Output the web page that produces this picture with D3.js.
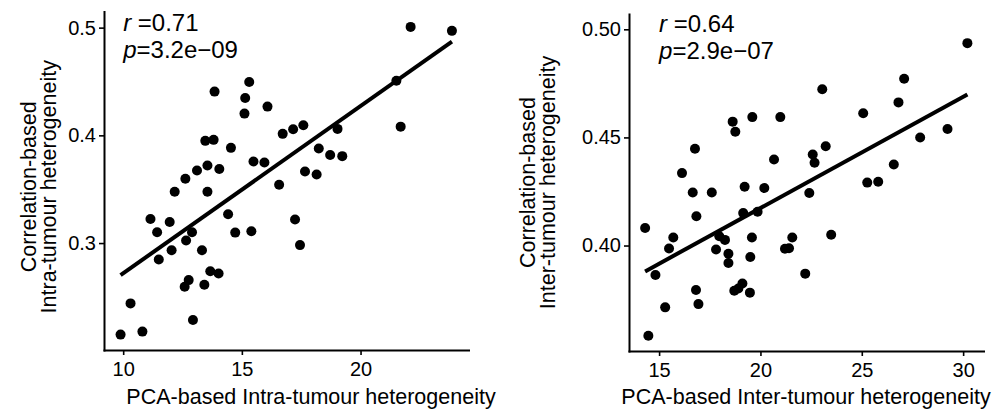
<!DOCTYPE html>
<html>
<head>
<meta charset="utf-8">
<script src="https://cdn.jsdelivr.net/npm/d3@7"></script>
<style>
  body { margin: 0; background: #fff; }
  text { font-family: "Liberation Sans", Arial, Helvetica, sans-serif; fill: #000; }
</style>
</head>
<body>
<svg id="chart" width="1000" height="410"></svg>
<script>
// Intra-tumour heterogeneity: PCA-based (x) vs correlation-based (y)
const intraPCA = [13.85,15.31,15.14,15.11,16.08,13.46,13.81,14.54,16.72,17.16,17.59,15.49,15.95,13.11,13.55,14.05,12.62,12.17,13.55,16.57,11.15,11.96,14.42,11.43,12.90,12.65,14.72,15.40,17.24,17.45,12.04,13.32,11.50,13.67,14.02,12.76,12.59,13.42,10.31,12.94,9.89,10.81,22.11,23.85,21.51,21.69,19.03,18.24,18.72,19.23,17.66,18.15];
const intraCorr = [0.4406,0.4495,0.4347,0.4202,0.4267,0.3949,0.3958,0.3884,0.4014,0.4057,0.4094,0.3757,0.3748,0.3674,0.3720,0.3687,0.3597,0.3477,0.3477,0.3542,0.3224,0.3196,0.3267,0.3100,0.3100,0.3023,0.3097,0.3109,0.3218,0.2981,0.2933,0.2933,0.2847,0.2739,0.2718,0.2656,0.2594,0.2613,0.2440,0.2285,0.2150,0.2178,0.5007,0.4970,0.4507,0.4081,0.4060,0.3878,0.3817,0.3807,0.3665,0.3637];

// Inter-tumour heterogeneity: PCA-based (x) vs correlation-based (y)
const interPCA = [18.63,19.60,20.98,18.76,16.77,16.13,20.67,16.66,17.60,19.22,20.19,16.84,19.15,19.86,14.31,15.70,15.49,17.97,18.25,17.81,18.42,18.42,19.58,19.50,21.21,21.41,21.57,14.82,16.82,16.94,18.71,18.91,19.11,19.48,15.30,14.47,30.21,27.09,23.05,26.81,25.07,29.23,27.88,23.22,22.58,22.67,26.58,25.27,25.81,22.41,23.49,22.21];
const interCorr = [0.4573,0.4594,0.4594,0.4526,0.4448,0.4335,0.4398,0.4245,0.4245,0.4272,0.4266,0.4135,0.4150,0.4156,0.4081,0.4037,0.3986,0.4043,0.4026,0.3982,0.3962,0.3919,0.4037,0.3947,0.3985,0.3987,0.4037,0.3864,0.3794,0.3729,0.3791,0.3801,0.3824,0.3782,0.3714,0.3583,0.4936,0.4771,0.4723,0.4662,0.4612,0.4539,0.4500,0.4459,0.4421,0.4383,0.4375,0.4291,0.4295,0.4243,0.4050,0.3870];

// Axis ticks
const intraXTicks = [10, 15, 20];
const intraYTicks = [0.3, 0.4, 0.5];
const interXTicks = [15, 20, 25, 30];
const interYTicks = [0.40, 0.45, 0.50];

// Correlation statistics and where they are anchored (data units)
const intraStats = { r: "0.71", p: "3.2e\u221209", x: 10, y: 0.5 };
const interStats = { r: "0.64", p: "2.9e\u221207", x: 15, y: 0.5 };

const svg = d3.select("#chart");

// Continuous-scale domain with 5% padding on both sides
function padded(values) {
  const [lo, hi] = d3.extent(values);
  const pad = (hi - lo) * 0.05;
  return [lo - pad, hi + pad];
}

// Ordinary least squares fit
function linearFit(xs, ys) {
  const mx = d3.mean(xs), my = d3.mean(ys);
  let sxy = 0, sxx = 0;
  xs.forEach((x, i) => { sxy += (x - mx) * (ys[i] - my); sxx += (x - mx) ** 2; });
  const slope = sxy / sxx;
  return { slope, intercept: my - slope * mx };
}

function drawPanel(cfg) {
  const { box, xs, ys, xTicks, yTicks, yFormat, stats } = cfg;
  const x = d3.scaleLinear().domain(padded(xs)).range([box.left, box.right]);
  const y = d3.scaleLinear().domain(padded(ys.concat([stats.y]))).range([box.bottom, box.top]);

  const g = svg.append("g");

  // Points
  g.append("g").selectAll("circle")
    .data(xs.map((v, i) => [v, ys[i]]))
    .join("circle")
    .attr("cx", d => x(d[0]))
    .attr("cy", d => y(d[1]))
    .attr("r", 5)
    .attr("fill", "#000");

  // Regression line across the data range
  const fit = linearFit(xs, ys);
  const [x0, x1] = d3.extent(xs);
  g.append("line")
    .attr("x1", x(x0)).attr("y1", y(fit.intercept + fit.slope * x0))
    .attr("x2", x(x1)).attr("y2", y(fit.intercept + fit.slope * x1))
    .attr("stroke", "#000").attr("stroke-width", 4);

  // Axes
  const xAxis = g.append("g")
    .attr("transform", `translate(0,${box.bottom})`)
    .call(d3.axisBottom(x).tickValues(xTicks).tickFormat(d3.format("d")).tickSize(5).tickSizeOuter(0).tickPadding(4));
  const yAxis = g.append("g")
    .attr("transform", `translate(${box.left},0)`)
    .call(d3.axisLeft(y).tickValues(yTicks).tickFormat(d3.format(yFormat)).tickSize(5).tickSizeOuter(0).tickPadding(3));

  [xAxis, yAxis].forEach(a => {
    a.select(".domain").attr("stroke", "#000").attr("stroke-width", 2).attr("stroke-linecap", "square");
    a.selectAll(".tick line").attr("stroke", "#000").attr("stroke-width", 1.6);
    a.selectAll(".tick text").attr("fill", "#000").style("font-size", "20px")
      .style("font-family", '"Liberation Sans", Arial, sans-serif');
  });
  xAxis.selectAll(".tick text").attr("dy", "0.71em").attr("y", 12);

  // Axis titles
  svg.append("text")
    .attr("x", cfg.xTitleX).attr("y", 404)
    .attr("text-anchor", "middle")
    .style("font-size", "21.5px")
    .text(cfg.xTitle);

  const yt = svg.append("text")
    .attr("transform", `translate(${cfg.yTitleX},${(box.top + box.bottom) / 2 + cfg.yTitleShift}) rotate(-90)`)
    .attr("text-anchor", "middle")
    .style("font-size", "21.5px");
  yt.append("tspan").attr("x", 0).attr("y", 0).text(cfg.yTitle[0]);
  yt.append("tspan").attr("x", 0).attr("y", 20).text(cfg.yTitle[1]);

  // Correlation annotation
  const lx = x(stats.x), ly = y(stats.y) + 3;
  const t1 = svg.append("text").attr("x", lx).attr("y", ly).style("font-size", "24px");
  t1.append("tspan").style("font-style", "italic").text("r");
  t1.append("tspan").text(" =" + stats.r);
  const t2 = svg.append("text").attr("x", lx).attr("y", ly + 27).style("font-size", "24px");
  t2.append("tspan").style("font-style", "italic").text("p");
  t2.append("tspan").text("=" + stats.p);
}

drawPanel({
  box: { left: 104, right: 468.5, top: 11.5, bottom: 350 },
  xs: intraPCA, ys: intraCorr,
  xTicks: intraXTicks, yTicks: intraYTicks, yFormat: ".1f",
  stats: intraStats,
  xTitle: "PCA-based Intra-tumour heterogeneity", xTitleX: 311,
  yTitle: ["Correlation-based", "Intra-tumour heterogeneity"], yTitleX: 36, yTitleShift: 6
});

drawPanel({
  box: { left: 629, right: 983.5, top: 14, bottom: 351 },
  xs: interPCA, ys: interCorr,
  xTicks: interXTicks, yTicks: interYTicks, yFormat: ".2f",
  stats: interStats,
  xTitle: "PCA-based Inter-tumour heterogeneity", xTitleX: 806,
  yTitle: ["Correlation-based", "Inter-tumour heterogeneity"], yTitleX: 535, yTitleShift: 0
});
</script>
</body>
</html>
